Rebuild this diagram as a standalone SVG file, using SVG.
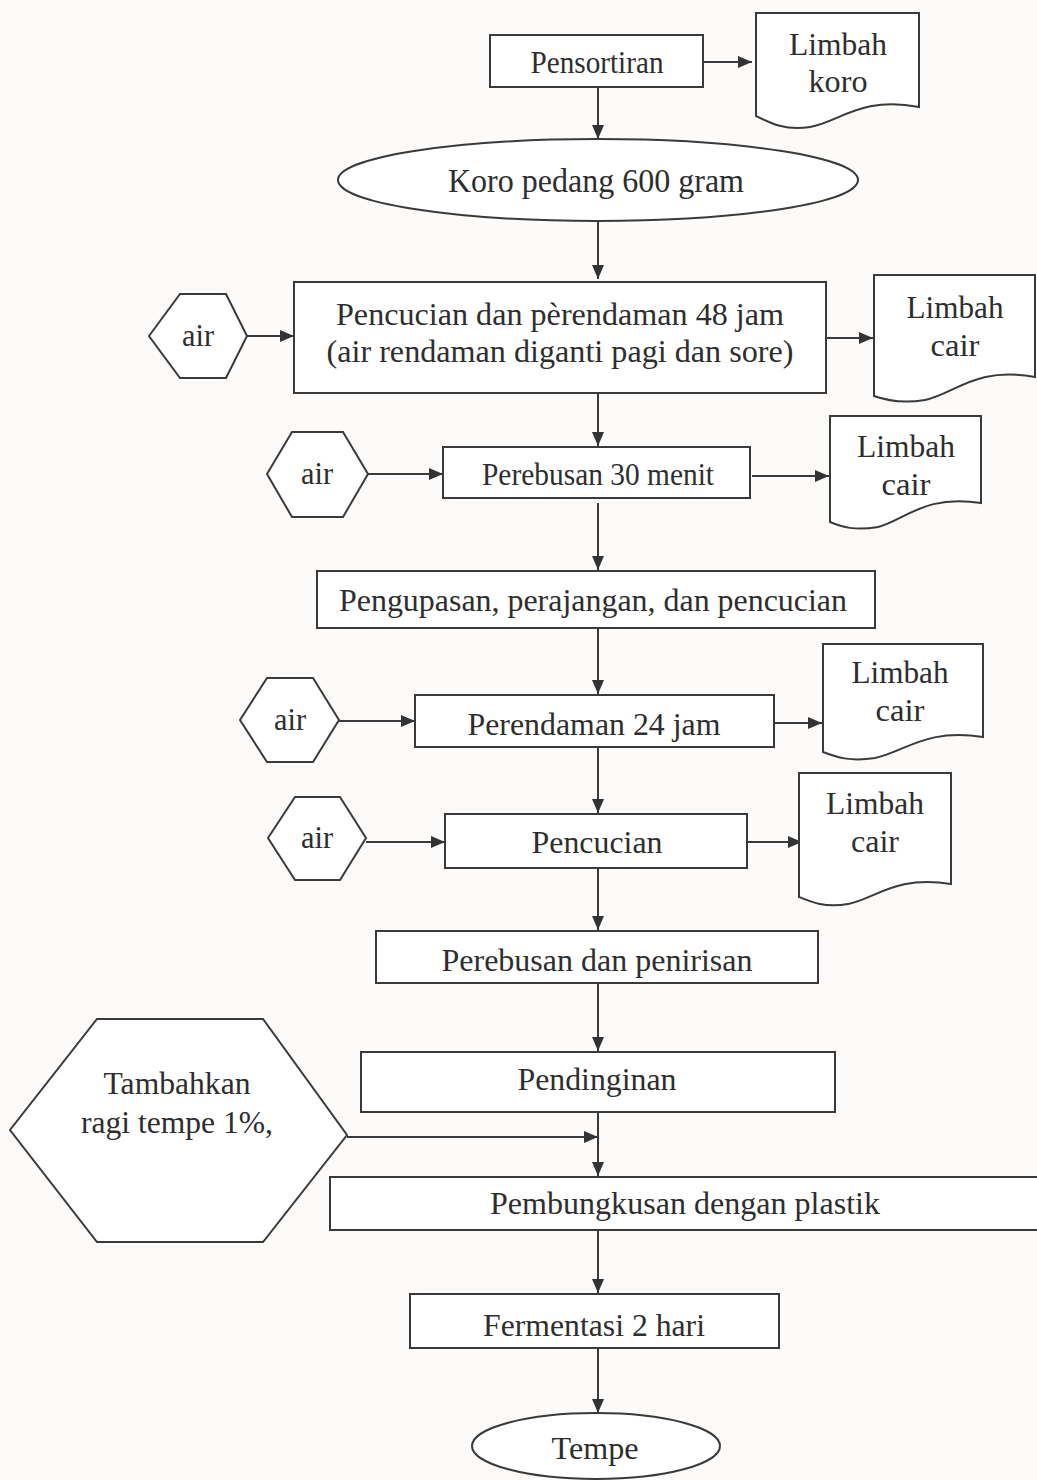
<svg xmlns="http://www.w3.org/2000/svg" width="1037" height="1480" viewBox="0 0 1037 1480">
<defs>
<style>
.b{fill:#fff;stroke:#3a3a3a;stroke-width:2}
.t{font-family:"Liberation Serif","Times New Roman",serif;font-size:32px;fill:#2e2e2e;text-anchor:middle}
.c{fill:none;stroke:#3a3a3a;stroke-width:2}
</style>
<marker id="ah" markerUnits="userSpaceOnUse" markerWidth="14" markerHeight="12" refX="14" refY="6" orient="auto">
<path d="M0,0 L14,6 L0,12 z" fill="#333"/>
</marker>
</defs>
<rect width="1037" height="1480" fill="#fcfbfa"/>

<g id="connectors">
<line class="c" x1="703" y1="62" x2="752" y2="62" marker-end="url(#ah)"/>
<line class="c" x1="598" y1="87" x2="598" y2="139" marker-end="url(#ah)"/>
<line class="c" x1="598" y1="221" x2="598" y2="279" marker-end="url(#ah)"/>
<line class="c" x1="247" y1="336" x2="294" y2="336" marker-end="url(#ah)"/>
<line class="c" x1="826" y1="338" x2="873" y2="338" marker-end="url(#ah)"/>
<line class="c" x1="598" y1="393" x2="598" y2="446" marker-end="url(#ah)"/>
<line class="c" x1="368" y1="474" x2="443" y2="474" marker-end="url(#ah)"/>
<line class="c" x1="752" y1="476" x2="829" y2="476" marker-end="url(#ah)"/>
<line class="c" x1="598" y1="503" x2="598" y2="570" marker-end="url(#ah)"/>
<line class="c" x1="598" y1="628" x2="598" y2="694" marker-end="url(#ah)"/>
<line class="c" x1="339" y1="721" x2="415" y2="721" marker-end="url(#ah)"/>
<line class="c" x1="774" y1="723" x2="822" y2="723" marker-end="url(#ah)"/>
<line class="c" x1="598" y1="747" x2="598" y2="813" marker-end="url(#ah)"/>
<line class="c" x1="366" y1="842" x2="445" y2="842" marker-end="url(#ah)"/>
<line class="c" x1="747" y1="842" x2="802" y2="842" marker-end="url(#ah)"/>
<line class="c" x1="598" y1="868" x2="598" y2="930" marker-end="url(#ah)"/>
<line class="c" x1="598" y1="983" x2="598" y2="1051" marker-end="url(#ah)"/>
<line class="c" x1="347" y1="1137" x2="598" y2="1137" marker-end="url(#ah)"/>
<line class="c" x1="598" y1="1112" x2="598" y2="1176" marker-end="url(#ah)"/>
<line class="c" x1="598" y1="1230" x2="598" y2="1293" marker-end="url(#ah)"/>
<line class="c" x1="598" y1="1348" x2="598" y2="1413" marker-end="url(#ah)"/>
</g>

<g id="pensortiran">
<rect class="b" x="490" y="35" width="213" height="52"/>
<text class="t" x="597" y="73" textLength="133" lengthAdjust="spacingAndGlyphs">Pensortiran</text>
</g>
<g id="limbah-koro">
<path class="b" d="M756,13 H919 V107 C860,96 840,122 810,127 C785,131 770,123 756,116 Z"/>
<text class="t" x="838" y="55" textLength="98" lengthAdjust="spacingAndGlyphs">Limbah</text>
<text class="t" x="838" y="92" textLength="59" lengthAdjust="spacingAndGlyphs">koro</text>
</g>
<g id="koro-pedang">
<ellipse class="b" cx="598" cy="180" rx="260" ry="41"/>
<text class="t" x="596" y="192" textLength="296" lengthAdjust="spacingAndGlyphs" style="font-size:33px">Koro pedang 600 gram</text>
</g>
<g id="air1">
<polygon class="b" points="149,336 180,294 226,294 247,336 226,378 180,378"/>
<text class="t" x="198" y="346" textLength="32" lengthAdjust="spacingAndGlyphs">air</text>
</g>
<g id="pencucian-perendaman">
<rect class="b" x="294" y="282" width="532" height="111"/>
<text class="t" x="560" y="325" textLength="448" lengthAdjust="spacingAndGlyphs">Pencucian dan pèrendaman 48 jam</text>
<text class="t" x="560" y="362" textLength="467" lengthAdjust="spacingAndGlyphs">(air rendaman diganti pagi dan sore)</text>
</g>
<g id="limbah-cair1">
<path class="b" d="M874,275 H1035 V377 C975,366 955,394 925,400 C900,404 885,400 874,396 Z"/>
<text class="t" x="955" y="318" textLength="97" lengthAdjust="spacingAndGlyphs">Limbah</text>
<text class="t" x="955" y="356" textLength="49" lengthAdjust="spacingAndGlyphs">cair</text>
</g>
<g id="air2">
<polygon class="b" points="267,474 292,432 343,432 368,474 343,517 292,517"/>
<text class="t" x="317" y="484" textLength="32" lengthAdjust="spacingAndGlyphs">air</text>
</g>
<g id="perebusan30">
<rect class="b" x="443" y="447" width="307" height="51"/>
<text class="t" x="598" y="485" textLength="232" lengthAdjust="spacingAndGlyphs">Perebusan 30 menit</text>
</g>
<g id="limbah-cair2">
<path class="b" d="M830,416 H981 V503 C925,494 905,520 878,527 C855,531 842,527 830,522 Z"/>
<text class="t" x="906" y="457" textLength="98" lengthAdjust="spacingAndGlyphs">Limbah</text>
<text class="t" x="906" y="495" textLength="49" lengthAdjust="spacingAndGlyphs">cair</text>
</g>
<g id="pengupasan">
<rect class="b" x="317" y="571" width="558" height="57"/>
<text class="t" x="593" y="611" textLength="508" lengthAdjust="spacingAndGlyphs">Pengupasan, perajangan, dan pencucian</text>
</g>
<g id="air3">
<polygon class="b" points="240,720 267,678 313,678 339,720 313,762 267,762"/>
<text class="t" x="290" y="730" textLength="32" lengthAdjust="spacingAndGlyphs">air</text>
</g>
<g id="perendaman24">
<rect class="b" x="415" y="695" width="359" height="52"/>
<text class="t" x="594" y="735" textLength="253" lengthAdjust="spacingAndGlyphs">Perendaman 24 jam</text>
</g>
<g id="limbah-cair3">
<path class="b" d="M823,644 H983 V737 C925,728 905,752 875,758 C850,762 836,757 823,752 Z"/>
<text class="t" x="900" y="683" textLength="97" lengthAdjust="spacingAndGlyphs">Limbah</text>
<text class="t" x="900" y="721" textLength="49" lengthAdjust="spacingAndGlyphs">cair</text>
</g>
<g id="air4">
<polygon class="b" points="268,838 295,797 340,797 366,838 340,880 295,880"/>
<text class="t" x="317" y="848" textLength="32" lengthAdjust="spacingAndGlyphs">air</text>
</g>
<g id="pencucian">
<rect class="b" x="445" y="814" width="302" height="54"/>
<text class="t" x="597" y="853" textLength="131" lengthAdjust="spacingAndGlyphs">Pencucian</text>
</g>
<g id="limbah-cair4">
<path class="b" d="M799,773 H951 V884 C895,875 875,899 848,904 C825,908 811,902 799,897 Z"/>
<text class="t" x="875" y="814" textLength="98" lengthAdjust="spacingAndGlyphs">Limbah</text>
<text class="t" x="875" y="852" textLength="48" lengthAdjust="spacingAndGlyphs">cair</text>
</g>
<g id="perebusan-penirisan">
<rect class="b" x="376" y="931" width="442" height="52"/>
<text class="t" x="597" y="971" textLength="311" lengthAdjust="spacingAndGlyphs">Perebusan dan penirisan</text>
</g>
<g id="pendinginan">
<rect class="b" x="361" y="1052" width="474" height="60"/>
<text class="t" x="597" y="1090" textLength="159" lengthAdjust="spacingAndGlyphs">Pendinginan</text>
</g>
<g id="ragi">
<polygon class="b" points="97,1019 263,1019 347,1135 263,1242 97,1242 10,1130"/>
<text class="t" x="177" y="1094" textLength="147" lengthAdjust="spacingAndGlyphs">Tambahkan</text>
<text class="t" x="177" y="1133" textLength="192" lengthAdjust="spacingAndGlyphs">ragi tempe 1%,</text>
</g>
<g id="pembungkusan">
<rect class="b" x="330" y="1177" width="720" height="53"/>
<text class="t" x="685" y="1214" textLength="390" lengthAdjust="spacingAndGlyphs">Pembungkusan dengan plastik</text>
</g>
<g id="fermentasi">
<rect class="b" x="410" y="1294" width="369" height="54"/>
<text class="t" x="594" y="1336" textLength="222" lengthAdjust="spacingAndGlyphs">Fermentasi 2 hari</text>
</g>
<g id="tempe">
<ellipse class="b" cx="596" cy="1446" rx="124" ry="33"/>
<text class="t" x="595" y="1459" textLength="87" lengthAdjust="spacingAndGlyphs">Tempe</text>
</g>
</svg>
